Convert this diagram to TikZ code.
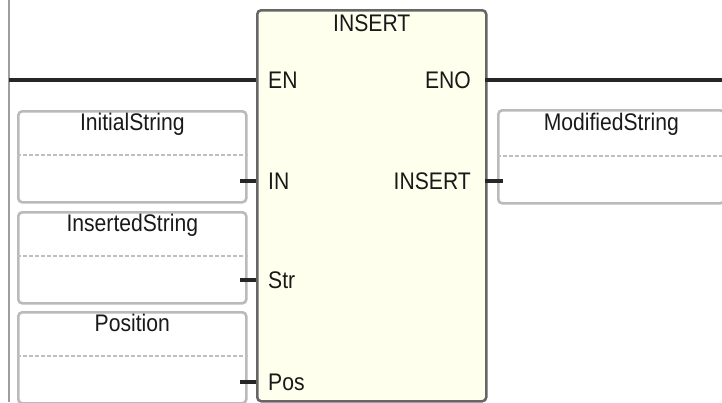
\documentclass[tikz,border=0pt]{standalone}
\usepackage{fontspec}
\setmainfont{Liberation Sans}[FakeStretch=0.88]
\usepackage{xcolor}
\usetikzlibrary{positioning,calc}
\definecolor{fbfill}{RGB}{255,255,238}

\begin{document}
\begin{tikzpicture}[
  x=1pt,y=-1pt,
  lbl/.style={font=\fontsize{24}{27}\selectfont,inner sep=0pt,text=black!90},
  fblock/.style={draw=black!60,line width=2.5pt,fill=fbfill,rounded corners=4pt,
    minimum width=229pt,minimum height=391pt,anchor=north west},
  varbox/.style={draw=black!27,line width=2.6pt,rounded corners=4pt,
    minimum width=228pt,minimum height=91pt,anchor=north west},
  sep/.style={draw=black!25,line width=2.6pt,dash pattern=on 4pt off 2pt},
  wire/.style={line width=3.4pt,black!85},
  rail/.style={line width=1.6pt,black!38}
]
\useasboundingbox (0,0) rectangle (722,402);
% power rail
\coordinate (railtop) at (9,0);
\coordinate (railbot) at (9,402);
\draw[rail] (railtop) -- (railbot);

% function block
\node[fblock] (fb) at (256,9) {};
\node[lbl,below=6pt of fb.north] (title) {INSERT};

% pins on the block
\coordinate (pEN) at (256,80);
\coordinate (pENO) at (485,80);
\coordinate (pOut) at (485,181);
\node[lbl,right=12pt of pEN] (lEN) {EN};
\node[lbl,left=14pt of pENO] (lENO) {ENO};
\node[lbl,left=14pt of pOut] (lOut) {INSERT};

% input variables
\foreach \nm/\txt/\top/\py/\pn in {init/InitialString/110/181/IN,
    ins/InsertedString/211/280/Str, pos/Position/311/382/Pos} {
  \node[varbox] (\nm) at (17,\top) {};
  \node[lbl,below=3pt of \nm.north] (\nm-lbl) {\txt};
  \draw[sep] ($(\nm.north west)+(0,45)$) -- ($(\nm.north east)+(0,45)$);
  \coordinate (p\pn) at (256,\py);
  \coordinate (s\pn) at (240,\py);
  \draw[wire] (s\pn) -- (p\pn);
  \node[lbl,right=12pt of p\pn] (l\pn) {\pn};
}

% output variable
\node[varbox,minimum width=226pt,minimum height=93pt] (mod) at (497,109) {};
\node[lbl,below=4pt of mod.north] (mod-lbl) {ModifiedString};
\draw[sep] ($(mod.north west)+(0,47)$) -- ($(mod.north east)+(0,47)$);
\coordinate (sOut) at (503,181);
\draw[wire] (pOut) -- (sOut);

% enable line
\coordinate (railEN) at (9,80);
\coordinate (endENO) at (722,80);
\draw[wire] (railEN) -- (pEN);
\draw[wire] (pENO) -- (endENO);
\end{tikzpicture}
\end{document}
